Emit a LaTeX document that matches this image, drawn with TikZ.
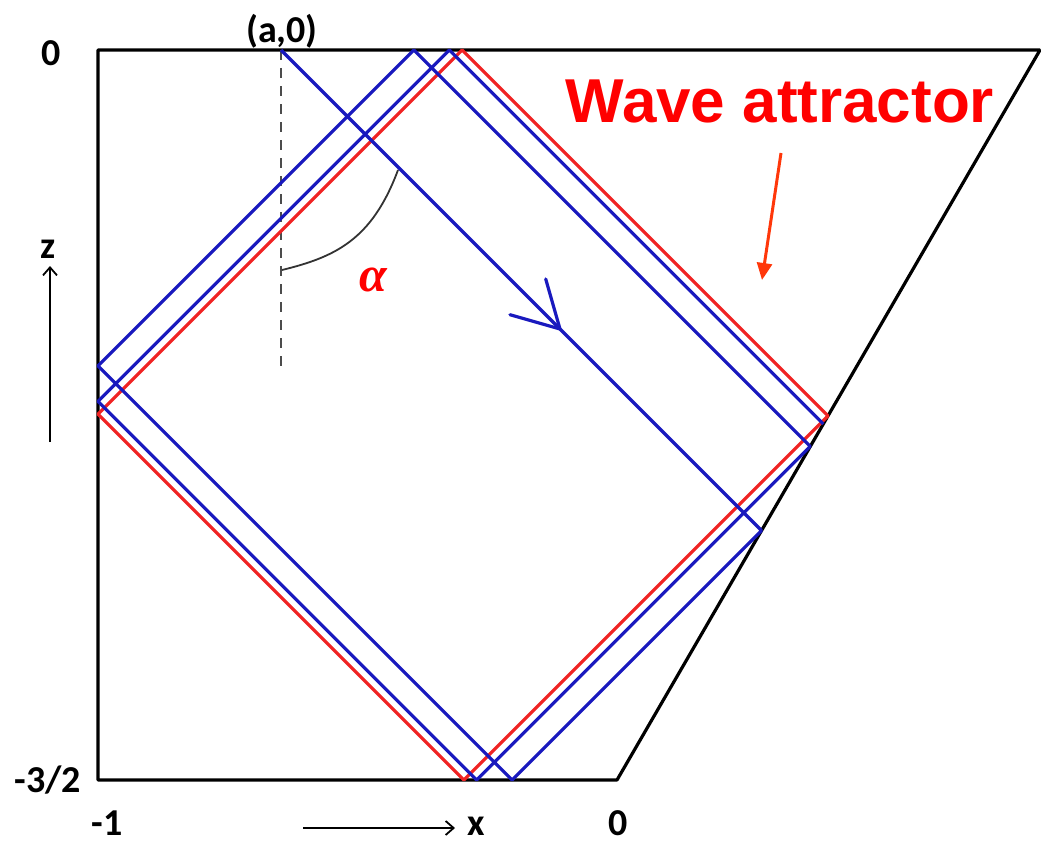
\documentclass[tikz,border=0pt]{standalone}
\usepackage{fontspec}
\setmainfont{Carlito}
\newfontfamily\wavefont{Liberation Sans}
\newfontfamily\greekfont{Liberation Serif}
\usetikzlibrary{arrows.meta,calc}
\definecolor{rayblue}{RGB}{25,25,190}
\definecolor{attred}{RGB}{240,35,35}
\definecolor{labred}{RGB}{255,0,0}
\definecolor{ptrred}{RGB}{255,55,10}
\tikzset{
  frame/.style={line width=3.2pt, black, line join=bevel},
  ray/.style={line width=3.2pt, rayblue, line join=round},
  attractor/.style={line width=3.2pt, attred, line join=round},
  axislab/.style={font=\fontsize{38}{42}\selectfont\bfseries, inner sep=0pt, anchor=base},
  axisarrow/.style={line width=1.8pt, -{Straight Barb[length=8pt,width=14pt,line width=1.8pt]}},
}
\begin{document}
\begin{tikzpicture}[x=1pt,y=-1pt]
\useasboundingbox (0,0) rectangle (1041,843);
% frame corners
\coordinate (TL) at (98,50);
\coordinate (TR) at (1040,50);
\coordinate (BR) at (617,780);
\coordinate (BL) at (98,780);
\draw[frame] (TL) -- (TR) -- (BR) -- (BL) -- cycle;

% dashed vertical at x=a
\coordinate (A0) at (281,50);
\coordinate (Aend) at (281,372);
\draw[line width=2.2pt, black!70, dash pattern=on 10pt off 8pt] (A0) -- (Aend);

% attractor
\coordinate (RT) at (462.1,50);
\coordinate (RR) at (828.0,415.9);
\coordinate (RB) at (463.9,780);
\coordinate (RL) at (98,414.1);
\draw[attractor] (RT) -- (RR) -- (RB) -- (RL) -- cycle;

% blue ray
\coordinate (P1) at (761.6,530.6);
\coordinate (B1) at (512.1,780);
\coordinate (L1) at (98,365.9);
\coordinate (T1) at (413.9,50);
\coordinate (P2) at (810.3,446.4);
\coordinate (B2) at (476.7,780);
\coordinate (L2) at (98,401.3);
\coordinate (T2) at (449.3,50);
\coordinate (P3) at (823.3,424.0);
\draw[ray] (A0) -- (P1) -- (B1) -- (L1) -- (T1) -- (P2) -- (B2) -- (L2) -- (T2) -- (P3);
% open arrowhead on first segment
\coordinate (tip) at (560,329);
\draw[ray, line cap=round] ($(tip)+(-50,-14.3)$) -- (tip) -- ($(tip)+(-14.3,-50)$);

% angle alpha
\coordinate (angS) at (282,270);
\coordinate (angE) at (398,170);
\draw[line width=1.8pt, black!80] (angS) .. controls (335,257) and (372,240) .. (angE);
\node[text=labred, font=\fontsize{50}{56}\selectfont\greekfont\bfseries\itshape, inner sep=0pt] (alpha) at (373,280) {α};

% Wave attractor label and pointer
\node[text=labred, font=\fontsize{62}{70}\selectfont\wavefont\bfseries, inner sep=0pt, anchor=base] (wave) at (780,122) {Wave attractor};
\coordinate (ptrS) at (781,153);
\coordinate (ptrE) at (762,280);
\draw[line width=3pt, ptrred, -{Triangle[length=17pt,width=15pt]}] (ptrS) -- (ptrE);

% axis labels
\node[axislab] (zero0) at (51,66) {0};
\node[axislab] (a0) at (282,43) {(a,0)};
\node[axislab] (m32) at (48,792) {-3/2};
\node[axislab] (m1) at (107,835) {-1};
\node[axislab] (zerox) at (618,835) {0};
\node[axislab] (xlab) at (476,835) {x};
\node[axislab] (zlab) at (48,258) {z};

% axis arrows
\coordinate (zS) at (50,442);
\coordinate (zE) at (50,266);
\draw[axisarrow] (zS) -- (zE);
\coordinate (xS) at (303,828);
\coordinate (xE) at (455,828);
\draw[axisarrow] (xS) -- (xE);
\end{tikzpicture}
\end{document}
